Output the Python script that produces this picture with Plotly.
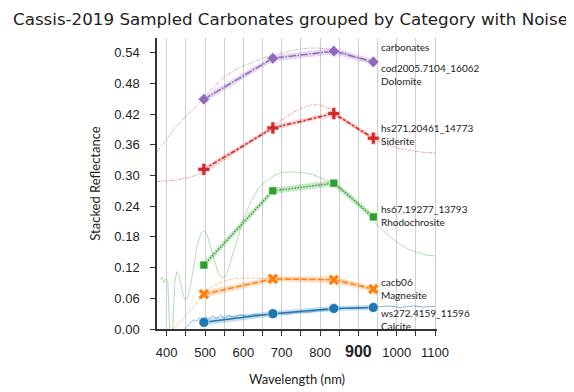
import plotly.graph_objects as go

# ---------------- data ----------------
categories = ["Calcite", "Magnesite", "Rhodochrosite", "Siderite", "Dolomite"]
sample_ids = ["ws272.4159_11596", "cacb06", "hs67.19277_13793", "hs271.20461_14773", "cod2005.7104_16062"]

# CaSSIS filter centre wavelengths (BLU, PAN, RED, NIR)
filter_wl = [497, 677, 836, 939]

# sampled (stacked) reflectance at filters
calcite_pts = [0.013, 0.030, 0.040, 0.042]
magnesite_pts = [0.068, 0.098, 0.096, 0.078]
rhodochrosite_pts = [0.125, 0.270, 0.285, 0.219]
siderite_pts = [0.312, 0.393, 0.421, 0.373]
dolomite_pts = [0.449, 0.529, 0.543, 0.522]

# noise half-widths at filters
calcite_noise = [0.006, 0.005, 0.005, 0.005]
magnesite_noise = [0.007, 0.005, 0.006, 0.005]
rhodochrosite_noise = [0.007, 0.006, 0.006, 0.006]
siderite_noise = [0.004, 0.004, 0.004, 0.004]
dolomite_noise = [0.006, 0.006, 0.006, 0.005]

# full library spectra (stacked)
calcite_wl = [447, 455, 462, 470, 478, 485, 492, 500, 510, 520, 530, 540, 550, 560, 575, 590, 610, 630,
              650, 680, 710, 740, 770, 800, 830, 860, 890, 920, 950, 980, 1010, 1040, 1070, 1100]
calcite_spec = [0.0, 0.006, 0.012, 0.018, 0.015, 0.022, 0.018, 0.024, 0.019, 0.025, 0.021, 0.027, 0.022, 0.027,
                0.023, 0.028, 0.025, 0.029, 0.027, 0.031, 0.029, 0.033, 0.033, 0.036, 0.037, 0.040, 0.040,
                0.042, 0.043, 0.045, 0.042, 0.045, 0.043, 0.044]

magnesite_wl = [415, 430, 445, 460, 475, 490, 505, 520, 540, 560, 580, 600, 630, 660, 700, 750, 800, 840, 880, 920, 945]
magnesite_spec = [0.0, 0.010, 0.022, 0.034, 0.048, 0.062, 0.075, 0.084, 0.091, 0.096, 0.099, 0.100, 0.100,
                  0.099, 0.098, 0.098, 0.098, 0.097, 0.092, 0.083, 0.078]

rhodochrosite_wl = [383, 388, 393, 398, 403, 407, 410, 413, 416, 421, 426, 432, 440, 446, 452, 460, 470, 480, 490,
                    497, 505, 515, 525, 535, 545, 552, 560, 570, 585, 600, 620, 640, 660, 680, 700, 720, 740,
                    760, 780, 800, 820, 840, 860, 880, 900, 920, 940, 960, 980, 1000, 1020, 1040, 1060, 1080, 1100]
rhodochrosite_spec = [0.095, 0.102, 0.090, 0.098, 0.092, -0.05, -0.05, -0.05, 0.0, 0.090, 0.112, 0.105, 0.075,
                      0.060, 0.058, 0.075, 0.120, 0.165, 0.188, 0.192, 0.185, 0.160, 0.130, 0.108, 0.100, 0.102,
                      0.115, 0.140, 0.180, 0.215, 0.250, 0.275, 0.290, 0.300, 0.306, 0.307, 0.306, 0.305, 0.302,
                      0.296, 0.290, 0.282, 0.272, 0.260, 0.245, 0.228, 0.210, 0.195, 0.182, 0.170, 0.160, 0.153,
                      0.148, 0.144, 0.143]

siderite_wl = [375, 400, 425, 450, 475, 500, 525, 550, 575, 600, 625, 650, 675, 700, 725, 750, 775, 800, 825,
               850, 875, 900, 925, 950, 975, 1000, 1025, 1050, 1075, 1100]
siderite_spec = [0.288, 0.289, 0.291, 0.295, 0.300, 0.307, 0.318, 0.330, 0.343, 0.356, 0.370, 0.383, 0.396,
                 0.409, 0.421, 0.431, 0.438, 0.438, 0.430, 0.418, 0.403, 0.389, 0.377, 0.368, 0.360, 0.354,
                 0.350, 0.347, 0.345, 0.344]

dolomite_wl = [375, 400, 425, 450, 475, 500, 525, 550, 575, 600, 625, 650, 675, 700, 725, 750, 775, 800, 825,
               850, 875, 900, 925, 945]
dolomite_spec = [0.347, 0.372, 0.396, 0.416, 0.433, 0.455, 0.475, 0.492, 0.505, 0.514, 0.522, 0.529, 0.535,
                 0.540, 0.544, 0.547, 0.549, 0.549, 0.547, 0.543, 0.537, 0.530, 0.522, 0.517]

x_tick_vals = [400, 450, 500, 550, 600, 650, 700, 750, 800, 850, 900, 950, 1000, 1050, 1100]
x_tick_text = ["400", "", "500", "", "600", "", "700", "", "800", "",
               "<span style='font-size:16px'><b>900</b></span>", "", "1000", "", "1100"]
y_tick_vals = [0.0, 0.06, 0.12, 0.18, 0.24, 0.30, 0.36, 0.42, 0.48, 0.54]
y_tick_text = ["0.00", "0.06", "0.12", "0.18", "0.24", "0.30", "0.36", "0.42", "0.48", "0.54"]

# ---------------- styles ----------------
colors = ["#1f77b4", "#ff7f0e", "#2ca02c", "#d62728", "#9467bd"]
fills = ["rgba(31,119,180,0.25)", "rgba(255,127,14,0.25)", "rgba(44,160,44,0.25)",
         "rgba(214,39,40,0.25)", "rgba(148,103,189,0.25)"]
symbols = ["circle", "x", "square", "cross", "diamond"]
msizes = [10, 10, 8, 10, 9]
dashes = ["solid", "6px,2.25px", "1.5px,1.5px", "4.5px,1.9px,2.25px,1.9px", "7.5px,1.5px,1.5px,1.5px"]
spec_dashes = ["solid", "4px,1.5px", "solid", "3px,1.3px,1.5px,1.3px", "5px,1px,1px,1px"]
spec_opacity = [0.55, 0.45, 0.35, 0.45, 0.45]

pts = [calcite_pts, magnesite_pts, rhodochrosite_pts, siderite_pts, dolomite_pts]
noise = [calcite_noise, magnesite_noise, rhodochrosite_noise, siderite_noise, dolomite_noise]
spec_wl = [calcite_wl, magnesite_wl, rhodochrosite_wl, siderite_wl, dolomite_wl]
spec = [calcite_spec, magnesite_spec, rhodochrosite_spec, siderite_spec, dolomite_spec]

fig = go.Figure()

for i in range(5):
    fig.add_trace(go.Scatter(x=spec_wl[i], y=spec[i], mode="lines",
                             line=dict(color=colors[i], width=1, dash=spec_dashes[i]),
                             opacity=spec_opacity[i], showlegend=False, hoverinfo="skip"))

for i in range(5):
    upper = [v + n for v, n in zip(pts[i], noise[i])]
    lower = [v - n for v, n in zip(pts[i], noise[i])]
    fig.add_trace(go.Scatter(x=filter_wl + filter_wl[::-1], y=upper + lower[::-1],
                             fill="toself", fillcolor=fills[i], line=dict(width=0),
                             mode="lines", showlegend=False, hoverinfo="skip"))
    fig.add_trace(go.Scatter(x=filter_wl, y=pts[i], mode="lines+markers",
                             line=dict(color=colors[i], width=1.5, dash=dashes[i]),
                             marker=dict(symbol=symbols[i], size=msizes[i], color=colors[i],
                                         line=dict(color="white", width=0.6)),
                             name=categories[i], showlegend=False))

# ---------------- labels on the right ----------------
label_font = dict(family="Lato, sans-serif", size=10, color="#222")
fig.add_annotation(x=954, y=0.5505, xref="x", yref="y", text="carbonates", showarrow=False,
                   xanchor="left", yanchor="middle", font=label_font)
label_y = [0.0176, 0.0786, 0.221, 0.381, 0.498]
for i in range(5):
    fig.add_annotation(x=954, y=label_y[i], xref="x", yref="y",
                       text=sample_ids[i] + "<br>" + categories[i], showarrow=False, align="left",
                       xanchor="left", yanchor="middle", font=label_font)

# page offsets the figure by 8 px; figure coords = reference coords - 8
L, T, PW, PH, W, H = 149, 30, 280, 291, 566, 384

fig.update_layout(
    width=W, height=H,
    margin=dict(l=L, r=W - L - PW, t=T, b=H - T - PH, autoexpand=False),
    paper_bgcolor="white", plot_bgcolor="white",
    title=dict(text="Cassis-2019 Sampled Carbonates grouped by Category with Noise",
               font=dict(family="DejaVu Sans, sans-serif", size=16.7, color="#222"),
               xref="container", x=5 / W, xanchor="left",
               yref="container", y=1 - 11 / H, yanchor="middle"),
    xaxis=dict(range=[374.7, 1105.2], tickmode="array", tickvals=x_tick_vals, ticktext=x_tick_text,
               automargin=False,
               showgrid=True, gridcolor="#cfcfcf", gridwidth=1, zeroline=False,
               showline=True, linecolor="#333", linewidth=1.5,
               ticks="outside", ticklen=5, tickwidth=1.2, tickcolor="#333",
               tickfont=dict(family="Liberation Sans, Arial, sans-serif", size=13, color="#222"),
               ticklabelstandoff=6,
               title=dict(text="Wavelength (nm)", standoff=16,
                          font=dict(family="Lato, sans-serif", size=13, color="#222"))),
    yaxis=dict(range=[0, 0.5687], tickmode="array", tickvals=y_tick_vals, ticktext=y_tick_text,
               automargin=False,
               showgrid=False, zeroline=False,
               showline=True, linecolor="#333", linewidth=1.5,
               ticks="outside", ticklen=5, tickwidth=1.2, tickcolor="#333",
               tickfont=dict(family="Liberation Sans, Arial, sans-serif", size=13, color="#222"),
               ticklabelstandoff=8,
               title=dict(text="Stacked Reflectance", standoff=11,
                          font=dict(family="Lato, sans-serif", size=13, color="#222"))),
)

fig.write_html("out.html")
